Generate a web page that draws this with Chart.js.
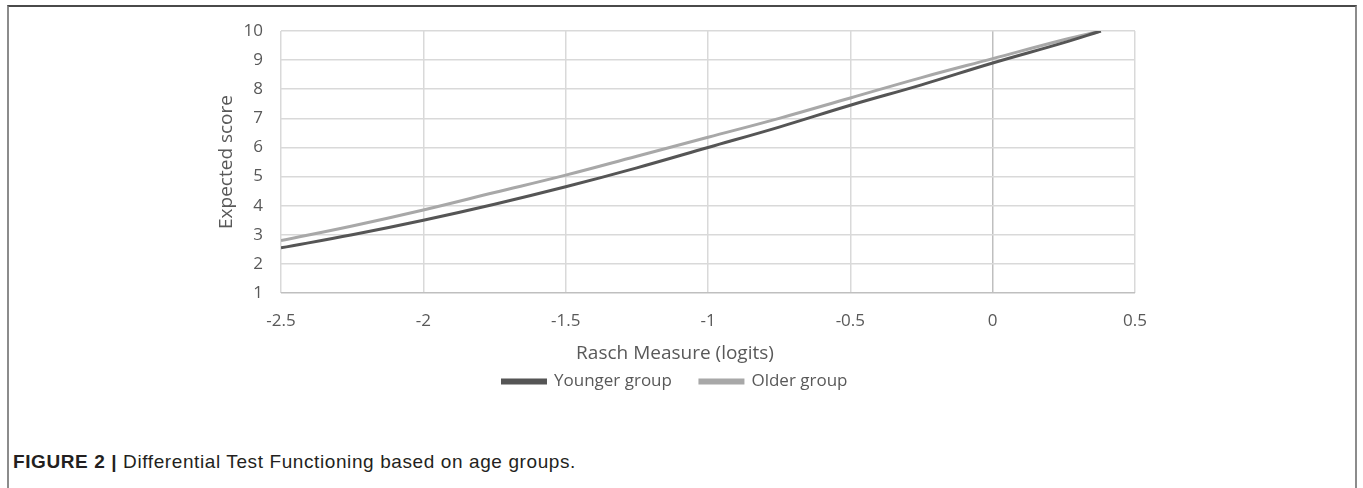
<!DOCTYPE html>
<html>
<head>
<meta charset="utf-8">
<script src="https://cdn.jsdelivr.net/npm/chart.js@4.4.1/dist/chart.umd.min.js"></script>
<style>
  html, body { margin: 0; padding: 0; background: #fff; }
  body { width: 1363px; height: 488px; position: relative; overflow: hidden; }
  #frame {
    position: absolute; left: 7px; top: 5px; width: 1346px; height: 490px;
    border-left: 2px solid #8c8c8c; border-right: 2px solid #8c8c8c; border-top: 2px solid #4a4a4a;
  }
  #wrap { position: absolute; left: 0; top: 0; width: 1363px; height: 402px; }
  #caption {
    position: absolute; left: 13px; top: 451px;
    font-family: "Liberation Sans", Arial, sans-serif; font-size: 19px; letter-spacing: 0.6px;
    color: #231f20; white-space: nowrap;
  }
  #caption b { font-weight: bold; }
</style>
</head>
<body>
<div id="frame"></div>
<div id="wrap"><canvas id="chart-dtf"></canvas></div>
<div id="caption"><b>FIGURE 2 |</b> Differential Test Functioning based on age groups.</div>
<script>
// rasch measure (logits) for each read point
var raschMeasure = [-2.5, -2.25, -2, -1.75, -1.5, -1.25, -1, -0.75, -0.5, -0.25, 0, 0.25, 0.38];
var younger = [2.55, 3.0, 3.5, 4.05, 4.65, 5.3, 6.0, 6.7, 7.45, 8.15, 8.9, 9.6, 10];
var older = [2.8, 3.3, 3.85, 4.45, 5.05, 5.7, 6.35, 7.0, 7.7, 8.4, 9.05, 9.7, 10];
var xTicks = [-2.5, -2, -1.5, -1, -0.5, 0, 0.5];
var yTicks = [1, 2, 3, 4, 5, 6, 7, 8, 9, 10];
var xTitle = "Rasch Measure (logits)";
var yTitle = "Expected score";

function toPoints(xs, ys) {
  var pts = [];
  xs.forEach(function (x, i) {
    pts.push({ x: x, y: ys[i] });
  });
  return pts;
}

var textColor = "#595959";
var labelFont = { family: "'Open Sans', sans-serif", size: 17 };
var titleFont = { family: "'Open Sans', sans-serif", size: 19 };

// excel centers the x title on the whole chart, same as the legend
var xTitlePlugin = {
  id: "xTitle",
  afterDraw: function (chart) {
    var ctx = chart.ctx;
    var lg = chart.legend;
    ctx.save();
    ctx.font = Chart.helpers.toFont(titleFont).string;
    ctx.fillStyle = textColor;
    ctx.textAlign = "center";
    ctx.textBaseline = "middle";
    ctx.fillText(xTitle, (lg.left + lg.right) / 2, chart.scales.x.bottom + 9);
    ctx.restore();
  }
};

new Chart("chart-dtf", {
  type: "line",
  data: {
    datasets: [{
      label: "Younger group",
      data: toPoints(raschMeasure, younger),
      borderColor: "#555555",
      backgroundColor: "#555555",
      borderWidth: 3,
      pointRadius: 0,
      tension: 0.4
    }, {
      label: "Older group",
      data: toPoints(raschMeasure, older),
      borderColor: "#a8a8a8",
      backgroundColor: "#a8a8a8",
      borderWidth: 3,
      pointRadius: 0,
      tension: 0.4
    }]
  },
  plugins: [xTitlePlugin],
  options: {
    responsive: true,
    maintainAspectRatio: false,
    animation: false,
    layout: { padding: { left: 215, right: 228, top: 31, bottom: 2 } },
    plugins: {
      tooltip: { enabled: false },
      legend: {
        position: "bottom",
        labels: {
          color: textColor,
          font: labelFont,
          boxWidth: 43,
          boxHeight: 3,
          padding: 28
        }
      }
    },
    scales: {
      x: {
        type: "linear",
        min: -2.5,
        max: 0.5,
        afterBuildTicks: function (axis) {
          axis.ticks = xTicks.map(function (v) { return { value: v }; });
        },
        afterFit: function (axis) { axis.height = 52; },
        grid: {
          color: function (ctx) { return ctx.tick && ctx.tick.value === 0 ? "#bfbfbf" : "#d9d9d9"; },
          lineWidth: 1.5,
          drawTicks: false
        },
        border: { display: false },
        ticks: {
          color: textColor, font: labelFont, padding: 18, maxRotation: 0,
          callback: function (v) { return String(v); }
        }
      },
      y: {
        min: 1,
        max: 10,
        afterBuildTicks: function (axis) {
          axis.ticks = yTicks.map(function (v) { return { value: v }; });
        },
        afterFit: function (axis) { axis.width = 66; },
        grid: {
          color: function (ctx) { return ctx.tick && ctx.tick.value === 1 ? "#bfbfbf" : "#d9d9d9"; },
          lineWidth: 1.5,
          drawTicks: false
        },
        border: { display: false },
        ticks: { color: textColor, font: labelFont, padding: 18 },
        title: {
          display: true,
          text: yTitle,
          color: textColor,
          font: titleFont,
          padding: 0
        }
      }
    }
  }
});
</script>
</body>
</html>
